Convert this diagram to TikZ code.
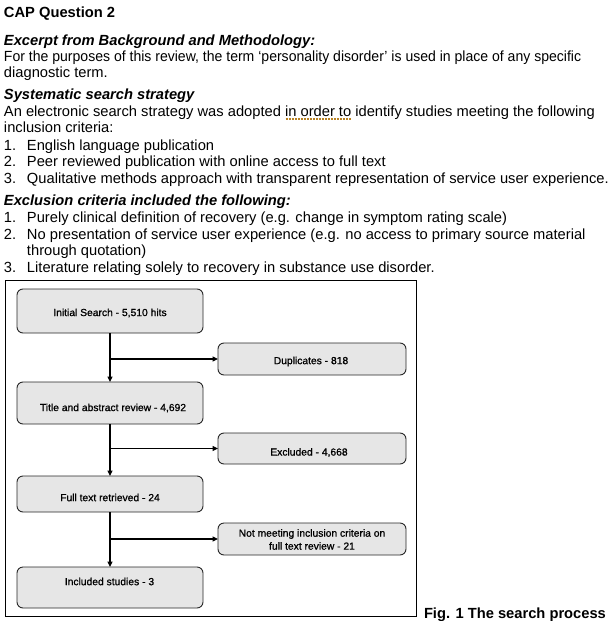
\documentclass[tikz,border=0pt]{standalone}
\usepackage{fontspec}
\setmainfont{Liberation Sans}
\newfontfamily\boxfont{Liberation Sans}[FakeBold=0.9]
\usetikzlibrary{arrows.meta}
\definecolor{boxfill}{RGB}{230,230,230}
\definecolor{boxline}{RGB}{40,40,40}
\definecolor{squig}{RGB}{185,130,35}
\newcommand{\squigword}[1]{\setbox0=\hbox{#1}\rlap{\color{squig}\raisebox{-4pt}{\hbox to \wd0{\xleaders\hbox to 3pt{\hss\rule{2pt}{1.6pt}\hss}\hfill}}}\box0\relax}
\newcommand{\numitem}[1]{\makebox[23pt][l]{#1}}
\tikzset{
  txt/.style={anchor=base west, inner sep=0pt, outer sep=0pt, font=\fontsize{14.7}{16}\selectfont},
  hd/.style={txt, font=\fontsize{14.7}{16}\selectfont\bfseries\itshape},
  title/.style={txt, font=\fontsize{14.7}{16}\selectfont\bfseries},
  fbox/.style={draw=boxline, line width=0.9pt, fill=boxfill, rounded corners=6pt, inner sep=0pt, outer sep=0pt},
  lbox/.style={fbox, minimum width=186pt},
  rbox/.style={fbox, minimum width=188pt},
  boxtxt/.style={inner sep=0pt, outer sep=0pt, align=center, font=\boxfont\fontsize{10.3}{13}\selectfont},
  arr/.style={draw=black, line width=1.2pt, -{Triangle[length=5.5pt,width=5pt]}},
  frame/.style={draw=black, line width=0.9pt, inner sep=0pt, outer sep=0pt}
}
\begin{document}
\begin{tikzpicture}[x=1pt,y=-1pt]
\useasboundingbox[fill=white] (0,0) rectangle (608,621);

% ---- text block ----
\node[title] (t0) at (4,17.5) {CAP Question 2};
\node[hd] (h1) at (4,45) {Excerpt from Background and Methodology:};
\node[txt] (l1) at (4,61.5) {\scalebox{0.955}[1]{For the purposes of this review, the term ‘personality disorder’ is used in place of any specific}};
\node[txt] (l2) at (4,77.5) {diagnostic term.};
\node[hd] (h2) at (4,99) {Systematic search strategy};
\node[txt] (l3) at (4,116) {An electronic search strategy was adopted \squigword{in order to} identify studies meeting the following};
\node[txt] (l4) at (4,132) {inclusion criteria:};
\node[txt] (i1) at (4,150) {\numitem{1.}English language publication};
\node[txt] (i2) at (4,166.5) {\numitem{2.}Peer reviewed publication with online access to full text};
\node[txt] (i3) at (4,183) {\numitem{3.}Qualitative methods approach with transparent representation of service user experience.};
\node[hd] (h3) at (4,205.5) {Exclusion criteria included the following:};
\node[txt] (e1) at (4,222) {\numitem{1.}Purely clinical definition of recovery (e.g. change in symptom rating scale)};
\node[txt] (e2) at (4,239) {\numitem{2.}No presentation of service user experience (e.g. no access to primary source material};
\node[txt] (e2b) at (27,255.5) {through quotation)};
\node[txt] (e3) at (4,272) {\numitem{3.}Literature relating solely to recovery in substance use disorder.};

% ---- figure frame ----
\node[frame, minimum width=411pt, minimum height=336pt] (frame) at (210.5,448.5) {};
\node[title] (cap) at (424,618) {Fig. 1 The search process};

% ---- boxes ----
\node[lbox, minimum height=44pt] (init) at (110,311) {};
\node[rbox, minimum height=32pt] (dup) at (312,359) {};
\node[lbox, minimum height=42pt] (tar) at (110,403) {};
\node[rbox, minimum height=31pt] (exc) at (312,448.5) {};
\node[lbox, minimum height=36pt] (ftr) at (110,494) {};
\node[rbox, minimum height=32pt] (nmi) at (312,539) {};
\node[lbox, minimum height=41pt] (inc) at (110,587.5) {};

% ---- box texts ----
\node[boxtxt] (initT) at (110,313) {Initial Search - 5,510 hits};
\node[boxtxt] (dupT) at (311,361.5) {Duplicates - 818};
\node[boxtxt] (tarT) at (113,408) {Title and abstract review - 4,692};
\node[boxtxt] (excT) at (309,452.5) {Excluded - 4,668};
\node[boxtxt] (ftrT) at (110,497.5) {Full text retrieved - 24};
\node[boxtxt] (nmiT) at (312,539.5) {Not meeting inclusion criteria on\\full text review - 21};
\node[boxtxt] (incT) at (109.5,581.5) {Included studies - 3};

% ---- connectors ----
\draw[arr] (init.south) -- (tar.north);
\draw[arr] (init.south |- dup.west) -- (dup.west);
\draw[arr] (tar.south) -- (ftr.north);
\draw[arr] (tar.south |- exc.west) -- (exc.west);
\draw[arr] (ftr.south) -- (inc.north);
\draw[arr] (ftr.south |- nmi.west) -- (nmi.west);
\end{tikzpicture}
\end{document}
